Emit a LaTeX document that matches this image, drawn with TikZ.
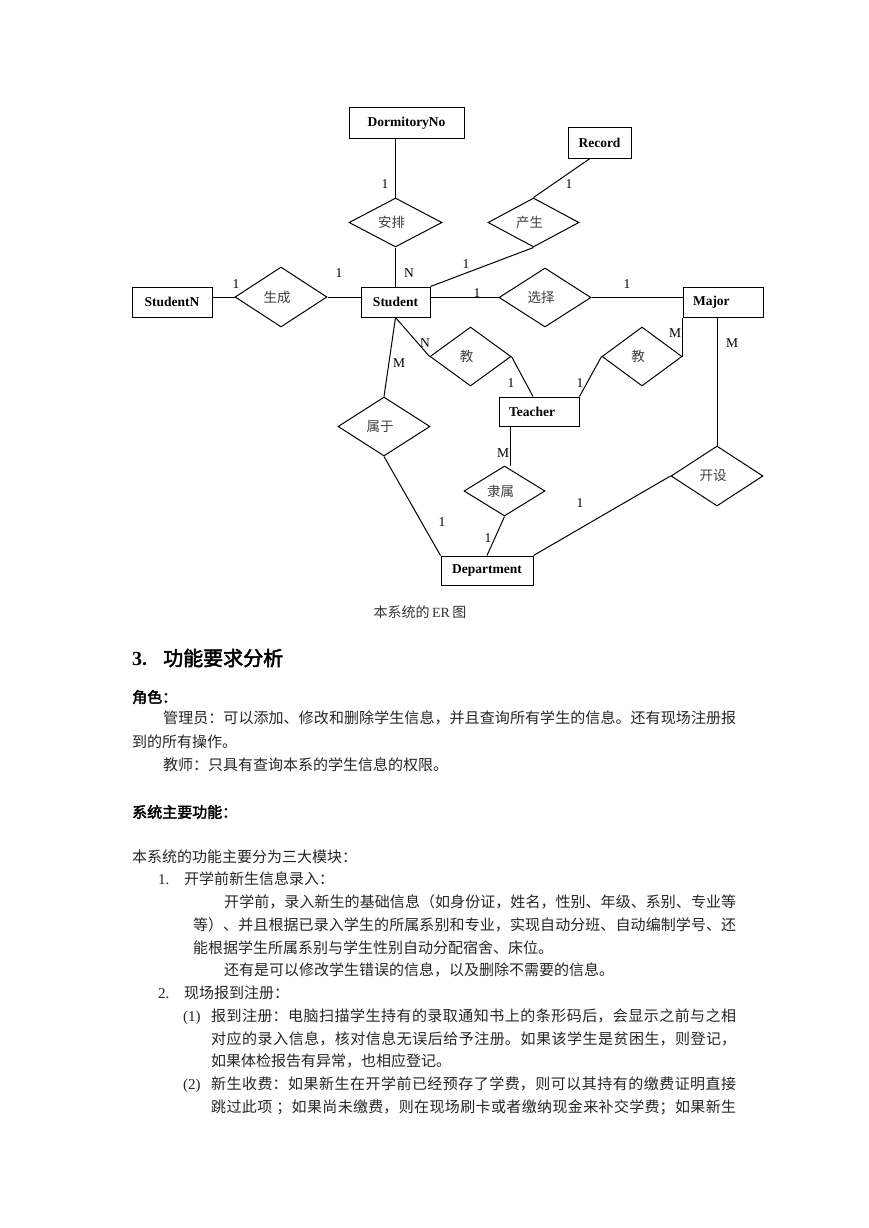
\documentclass[tikz,border=0pt]{standalone}
\usepackage{fontspec}
\setmainfont{Liberation Serif}
\newfontfamily\cjk[AutoFakeBold=2.5]{Noto Sans CJK SC}
\usetikzlibrary{shapes.geometric}
\XeTeXlinebreaklocale "zh"
\XeTeXlinebreakskip=0pt plus 2pt
\newcommand\jl[2]{\parbox[b]{#1}{\parfillskip=0pt\relax #2}}
\tikzset{
  ent/.style={draw, line width=1pt, minimum height=30pt, inner xsep=0pt, inner ysep=0pt,
    font=\fontsize{13.5}{16}\selectfont\bfseries},
  entl/.style={ent, text width=#1, inner xsep=10pt, align=left},
  rel/.style={draw, diamond, line width=1pt, inner sep=0pt, text=black!75,
    font=\fontsize{13.5}{16}\selectfont\cjk, execute at begin node={\hspace*{-8pt}}},
  card/.style={inner sep=0pt, font=\fontsize{13.5}{16}\selectfont},
  conn/.style={line width=1pt},
  body/.style={anchor=base west, inner sep=0pt, font=\fontsize{15}{18}\selectfont\cjk, text=black!85},
  lat/.style={anchor=base west, inner sep=0pt, font=\fontsize{15}{18}\selectfont, text=black!85},
}
\begin{document}
\begin{tikzpicture}[x=1pt,y=-1pt]
\useasboundingbox (0,0) rectangle (869,1228);
\fill[white] (0,0) rectangle (869,1228);

% entities
\node[ent, minimum width=115pt] (dorm) at (406.5,123) {DormitoryNo};
\node[ent, minimum width=63pt] (record) at (599.5,143) {Record};
\node[ent, minimum width=80pt] (studentn) at (172,302) {StudentN};
\node[ent, minimum width=69pt] (student) at (395.5,302) {Student};
\node[entl=60pt] (major) at (723,302) {Major};
\node[entl=60pt, minimum height=29pt] (teacher) at (539,411.5) {Teacher};
\node[ent, minimum width=92pt, minimum height=29pt] (dept) at (487,570.5) {Department};

% relationships
\node[rel, minimum width=93pt, minimum height=49pt] (anpai) at (395.5,222.5) {安排};
\node[rel, minimum width=92pt, minimum height=60pt] (shengcheng) at (281,297) {生成};
\node[rel, minimum width=91pt, minimum height=49pt] (chansheng) at (533.5,222.5) {产生};
\node[rel, minimum width=92pt, minimum height=59pt] (xuanze) at (545,297.5) {选择};
\node[rel, minimum width=81pt, minimum height=59pt] (jiaoL) at (470.5,356.5) {教};
\node[rel, minimum width=80pt, minimum height=59pt] (jiaoR) at (642,356.5) {教};
\node[rel, minimum width=92pt, minimum height=59pt] (shuyu) at (384,426.5) {属于};
\node[rel, minimum width=81pt, minimum height=50pt] (lishu) at (504.5,491) {隶属};
\node[rel, minimum width=92pt, minimum height=60pt] (kaishe) at (717,476) {开设};

% connectors
\draw[conn] (anpai.north) -- (anpai.north |- dorm.south);
\draw[conn] (anpai.south) -- (anpai.south |- student.north);
\draw[conn] ([xshift=-9.5pt]record.south) -- (chansheng.north);
\draw[conn] (chansheng.south) -- (student.north east);
\draw[conn] (shengcheng.west) -- (shengcheng.west -| studentn.east);
\draw[conn] (shengcheng.east) -- (shengcheng.east -| student.west);
\draw[conn] (xuanze.west) -- (xuanze.west -| student.east);
\draw[conn] (xuanze.east) -- (xuanze.east -| major.west);
\draw[conn] (student.south) -- (shuyu.north);
\draw[conn] (student.south) -- (jiaoL.west);
\draw[conn] (jiaoL.east) -- ([xshift=-6pt]teacher.north);
\draw[conn] (jiaoR.west) -- (teacher.north east);
\draw[conn] (jiaoR.east) -- (major.south west);
\draw[conn] (kaishe.north) -- (kaishe.north |- major.south);
\draw[conn] (shuyu.south) -- (dept.north west);
\draw[conn] ([xshift=6pt]lishu.north) -- ([xshift=6pt]lishu.north |- teacher.south);
\draw[conn] (lishu.south) -- (dept.north);
\draw[conn] (kaishe.west) -- (dept.north east);

% cardinalities
\node[card] (c1) at (385,184) {1};
\node[card] (c2) at (409,273) {N};
\node[card] (c3) at (339,273) {1};
\node[card] (c4) at (236,284) {1};
\node[card] (c5) at (466,264) {1};
\node[card] (c6) at (477,293) {1};
\node[card] (c7) at (569,184) {1};
\node[card] (c8) at (627,284) {1};
\node[card] (c9) at (675,333) {M};
\node[card] (c10) at (732,343) {M};
\node[card] (c11) at (425,343) {N};
\node[card] (c12) at (399,363) {M};
\node[card] (c13) at (511,383) {1};
\node[card] (c14) at (580,383) {1};
\node[card] (c15) at (503,453) {M};
\node[card] (c16) at (580,503) {1};
\node[card] (c17) at (442,522) {1};
\node[card] (c18) at (488,538) {1};

% caption
\node[anchor=base, inner sep=0pt, text=black!80, font=\fontsize{14}{16}\selectfont] (cap) at (420,617)
  {{\cjk 本系统的}\,ER\,{\cjk 图}};

% heading
\node[anchor=base west, inner sep=0pt, font=\fontsize{20}{22}\selectfont\bfseries] (h3) at (132,665.6) {3.};
\node[anchor=base west, inner sep=0pt, font=\fontsize{20}{22}\selectfont\cjk\bfseries] (h3t) at (163,665.6) {功能要求分析};

\node[body, font=\fontsize{15}{18}\selectfont\cjk\bfseries, text=black] (role) at (132,702.7) {角色：};
\node[body] (l1) at (163,723.7) {\jl{573pt}{管理员：可以添加、修改和删除学生信息，并且查询所有学生的信息。还有现场注册报}};
\node[body] (l2) at (132,747.7) {到的所有操作。};
\node[body] (l3) at (163,770.7) {教师：只具有查询本系的学生信息的权限。};

\node[body, font=\fontsize{15}{18}\selectfont\cjk\bfseries, text=black] (func) at (132,817.7) {系统主要功能：};
\node[body] (l4) at (132,862.7) {本系统的功能主要分为三大模块：};
\node[lat] (n1) at (158,884.7) {1.};
\node[body] (l5) at (184,884.7) {开学前新生信息录入：};
\node[body] (l6) at (224,907.7) {\jl{512pt}{开学前，录入新生的基础信息（如身份证，姓名，性别、年级、系别、专业等}};
\node[body] (l7) at (193,930.7) {\jl{543pt}{等）、并且根据已录入学生的所属系别和专业，实现自动分班、自动编制学号、还}};
\node[body] (l8) at (193,953.2) {能根据学生所属系别与学生性别自动分配宿舍、床位。};
\node[body] (l9) at (224,975.7) {还有是可以修改学生错误的信息，以及删除不需要的信息。};
\node[lat] (n2) at (158,998.7) {2.};
\node[body] (l10) at (184,998.7) {现场报到注册：};
\node[lat] (p1) at (183,1021.5) {(1)};
\node[body] (l11) at (211,1021.5) {\jl{525pt}{报到注册：电脑扫描学生持有的录取通知书上的条形码后，会显示之前与之相}};
\node[body] (l12) at (211,1044.2) {\jl{525pt}{对应的录入信息，核对信息无误后给予注册。如果该学生是贫困生，则登记，}};
\node[body] (l13) at (211,1066.9) {如果体检报告有异常，也相应登记。};
\node[lat] (p2) at (183,1089.6) {(2)};
\node[body] (l14) at (211,1089.6) {\jl{525pt}{新生收费：如果新生在开学前已经预存了学费，则可以其持有的缴费证明直接}};
\node[body] (l15) at (211,1112.3) {\jl{525pt}{跳过此项\hspace{4pt}；如果尚未缴费，则在现场刷卡或者缴纳现金来补交学费；如果新生}};
\end{tikzpicture}
\end{document}
